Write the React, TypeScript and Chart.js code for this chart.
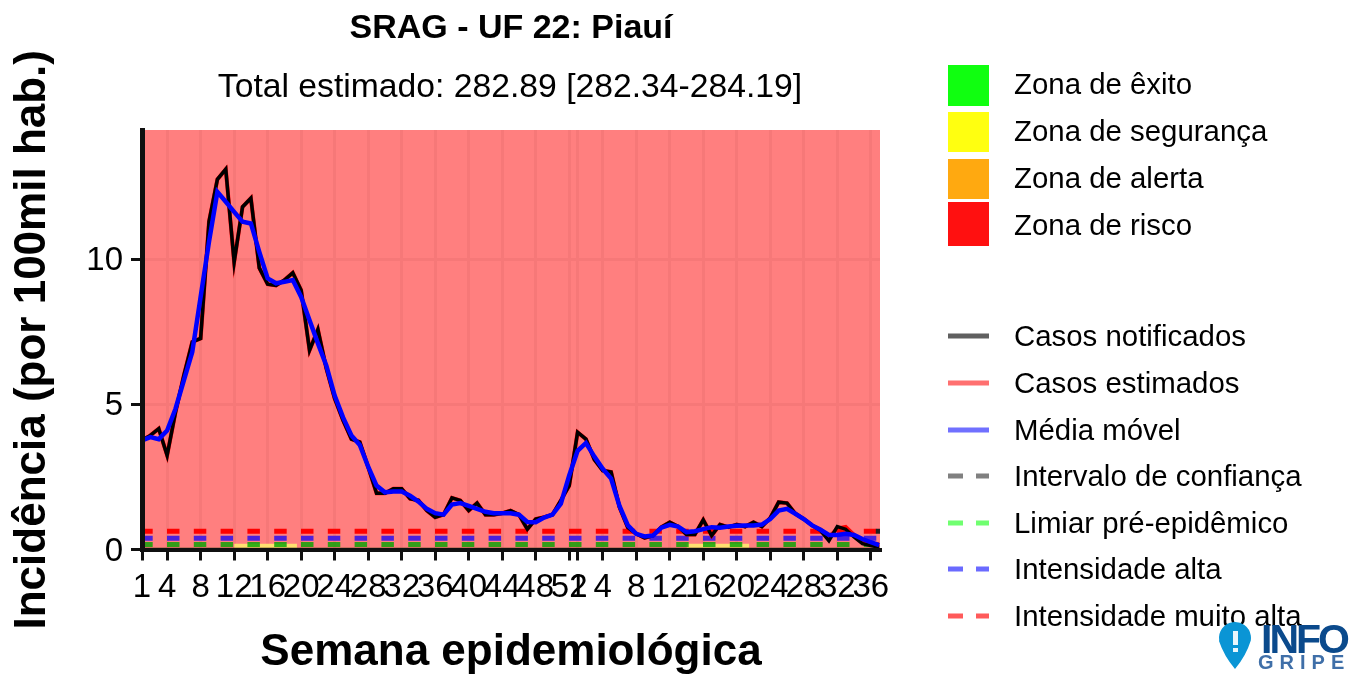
import React, { useEffect, useRef } from "react";
import { Chart, registerables } from "chart.js";

Chart.register(...registerables);

const titleText = "SRAG - UF 22: Piauí";
const subtitleText = "Total estimado: 282.89 [282.34-284.19]";
const yAxisTitle = "Incidência (por 100mil hab.)";
const xAxisTitle = "Semana epidemiológica";

const tickIndex = [0, 3, 7, 11, 15, 19, 23, 27, 31, 35, 39, 43, 47, 51, 52, 55, 59, 63, 67, 71, 75, 79, 83, 87];
const tickWeeks = ["1", "4", "8", "12", "16", "20", "24", "28", "32", "36", "40", "44", "48", "52", "1", "4", "8", "12", "16", "20", "24", "28", "32", "36"];

const notified = [
  3.76, 3.93, 4.16, 3.24, 4.73, 6.0, 7.15, 7.27, 11.3, 12.75, 13.1, 9.9, 11.8, 12.1, 9.7, 9.14, 9.1, 9.28, 9.53, 8.93,
  6.86, 7.58, 6.24, 5.2, 4.45, 3.8, 3.7, 2.84, 1.94, 1.94, 2.09, 2.09, 1.75, 1.69, 1.34, 1.11, 1.2, 1.78, 1.69, 1.34,
  1.6, 1.2, 1.2, 1.25, 1.34, 1.2, 0.7, 1.05, 1.11, 1.2, 1.69, 2.2, 4.04, 3.8, 3.1, 2.72, 2.67, 1.46, 0.75, 0.54,
  0.4, 0.48, 0.77, 0.94, 0.79, 0.52, 0.52, 1.02, 0.48, 0.86, 0.77, 0.86, 0.79, 0.94, 0.79, 1.09, 1.63, 1.6, 1.23, 1.05,
  0.83, 0.65, 0.3, 0.79, 0.7, 0.43, 0.2, 0.14, 0.08,
];
const estimated = [
  3.76, 3.93, 4.16, 3.24, 4.73, 6.0, 7.15, 7.27, 11.3, 12.75, 13.1, 9.9, 11.8, 12.1, 9.7, 9.14, 9.1, 9.28, 9.53, 8.93,
  6.86, 7.58, 6.24, 5.2, 4.45, 3.8, 3.7, 2.84, 1.94, 1.94, 2.09, 2.09, 1.75, 1.69, 1.34, 1.11, 1.2, 1.78, 1.69, 1.34,
  1.6, 1.2, 1.2, 1.25, 1.34, 1.2, 0.7, 1.05, 1.11, 1.2, 1.69, 2.2, 4.04, 3.8, 3.1, 2.72, 2.67, 1.46, 0.75, 0.54,
  0.4, 0.48, 0.77, 0.94, 0.79, 0.52, 0.52, 1.02, 0.48, 0.86, 0.77, 0.86, 0.79, 0.94, 0.79, 1.09, 1.63, 1.6, 1.23, 1.05,
  0.83, 0.68, 0.42, 0.72, 0.78, 0.5, 0.28, 0.16, 0.18,
];
const movingAverage = [
  3.76, 3.87, 3.8, 4.1, 4.85, 5.83, 6.8, 8.7, 10.6, 12.32, 11.98, 11.63, 11.29, 11.23, 10.25, 9.34, 9.17, 9.22, 9.28, 8.7,
  7.9, 7.1, 6.34, 5.3, 4.55, 3.93, 3.6, 2.85, 2.2, 1.97, 2.0, 2.0, 1.85, 1.65, 1.4, 1.25, 1.2, 1.55, 1.6, 1.5,
  1.4, 1.3, 1.25, 1.25, 1.25, 1.2, 0.95, 0.94, 1.1, 1.2, 1.58, 2.55, 3.4, 3.67, 3.2, 2.78, 2.44, 1.5, 0.83, 0.54,
  0.45, 0.48, 0.75, 0.85, 0.79, 0.6, 0.63, 0.7, 0.77, 0.75, 0.79, 0.82, 0.83, 0.83, 0.86, 1.05, 1.34, 1.4, 1.23, 1.05,
  0.83, 0.68, 0.5, 0.5, 0.54, 0.5, 0.36, 0.25, 0.15,
];

const axisEnd = 88.1;
const yMax = 14.45;
const thresholdPre = 0.17;
const thresholdHigh = 0.39;
const thresholdVeryHigh = 0.63;
const ciTailX = [87.6, 88.1];
const ciTailY = [0.63, 0.63];
const safetySpanA = [11, 18.5];
const safetySpanB = [65, 72.5];
const safetyTop = 0.2;
const successTop = 0.07;

const zoneLabels = ["Zona de êxito", "Zona de segurança", "Zona de alerta", "Zona de risco"];
const zoneColors = ["#10ff10", "#ffff10", "#ffa910", "#ff1010"];
const lineLabels = ["Casos notificados", "Casos estimados", "Média móvel", "Intervalo de confiança", "Limiar pré-epidêmico", "Intensidade alta", "Intensidade muito alta"];
const lineKeyColors = ["#606060", "#ff7070", "#7070ff", "#808080", "#70ff70", "#6a6aff", "#ff5a5a"];
const lineKeyDashed = [false, false, false, true, true, true, true];

const SANS = '"Liberation Sans", Arial, sans-serif';
const TEXT = "#000000";

const series = (ys: number[]) => ys.map((y, x) => ({ x, y }));
const flat = (xs: number[], y: number) => xs.map((x) => ({ x, y }));

const overlay = {
  id: "overlay",
  afterDraw(chart: any) {
    const ctx = chart.ctx as CanvasRenderingContext2D;
    ctx.save();
    ctx.textBaseline = "middle";
    ctx.fillStyle = TEXT;
    ctx.textAlign = "center";
    ctx.font = `bold 34px ${SANS}`;
    ctx.fillText(titleText, 511, 29);
    ctx.font = `33.7px ${SANS}`;
    ctx.fillText(subtitleText, 510, 88);

    ctx.textAlign = "left";
    ctx.font = `29.4px ${SANS}`;
    const zoneTops = [65, 112, 159, 202];
    const zoneH = [41, 40, 40, 44];
    const zoneText = [86, 133, 180, 227];
    zoneLabels.forEach((label, i) => {
      ctx.fillStyle = zoneColors[i];
      ctx.fillRect(948, zoneTops[i], 41, zoneH[i]);
      ctx.fillStyle = TEXT;
      ctx.fillText(label, 1014, zoneText[i]);
    });
    const lineY = [336, 383, 430, 476, 523, 569, 616];
    lineLabels.forEach((label, i) => {
      ctx.strokeStyle = lineKeyColors[i];
      ctx.lineWidth = 5;
      ctx.setLineDash(lineKeyDashed[i] ? [15, 13] : []);
      ctx.beginPath();
      ctx.moveTo(948, lineY[i]);
      ctx.lineTo(989, lineY[i]);
      ctx.stroke();
      ctx.setLineDash([]);
      ctx.fillStyle = TEXT;
      ctx.fillText(label, 1014, lineY[i] + 2);
    });

    // Logo
    ctx.fillStyle = "#0a95d5";
    ctx.beginPath();
    ctx.arc(1235, 638, 16, Math.PI * 0.95, Math.PI * 0.05);
    ctx.quadraticCurveTo(1246, 656, 1235, 669);
    ctx.quadraticCurveTo(1224, 656, 1219, 641);
    ctx.closePath();
    ctx.fill();
    ctx.fillStyle = "#e8f6fc";
    ctx.fillRect(1233, 631, 5, 14);
    ctx.fillRect(1233, 648, 5, 4);
    ctx.fillStyle = "#0b4a8c";
    ctx.font = `bold 41px ${SANS}`;
    ctx.textBaseline = "alphabetic";
    (ctx as any).letterSpacing = "-3px";
    ctx.fillText("INFO", 1261, 653);
    ctx.font = `bold 20px ${SANS}`;
    (ctx as any).letterSpacing = "6px";
    ctx.fillStyle = "#3f6fa8";
    ctx.fillText("GRIPE", 1258, 669);
    ctx.restore();
  },
};

const thresholdLine = (label: string, y: number, color: string) => ({
  label,
  data: flat([0, axisEnd], y),
  borderColor: color,
  borderWidth: 5,
  borderDash: [12.5, 14.3],
  borderDashOffset: 1.8,
  pointRadius: 0,
  fill: false,
});

const zoneFill = (label: string, data: { x: number; y: number }[], color: string) => ({
  label,
  data,
  borderWidth: 0,
  borderColor: "transparent",
  backgroundColor: color,
  pointRadius: 0,
  fill: "origin",
});

export default function App() {
  const ref = useRef<HTMLCanvasElement>(null);
  useEffect(() => {
    const chart = new Chart(ref.current!, {
      type: "line",
      data: {
        datasets: [
          { label: "Média móvel", data: series(movingAverage), borderColor: "#0000ff", borderWidth: 4.5, pointRadius: 0, tension: 0, fill: false },
          { label: "Casos notificados", data: series(notified), borderColor: "#000000", borderWidth: 3.5, pointRadius: 0, tension: 0, fill: false },
          { label: "Casos estimados", data: series(estimated), borderColor: "#ff0000", borderWidth: 4, pointRadius: 0, tension: 0, fill: false },
          { label: "Intervalo de confiança", data: ciTailX.map((x, i) => ({ x, y: ciTailY[i] })), borderColor: "#202020", borderWidth: 5, pointRadius: 0, fill: false },
          thresholdLine("Intensidade muito alta", thresholdVeryHigh, "#ff0000"),
          thresholdLine("Intensidade alta", thresholdHigh, "#4a20dc"),
          thresholdLine("Limiar pré-epidêmico", thresholdPre, "rgba(0,165,0,0.8)"),
          zoneFill("Zona de êxito", flat([0, axisEnd], successTop), "rgba(110,90,50,0.75)"),
          zoneFill("Zona de segurança A", flat(safetySpanA, safetyTop), "rgba(255,235,110,0.9)"),
          zoneFill("Zona de segurança B", flat(safetySpanB, safetyTop), "rgba(255,235,110,0.9)"),
          zoneFill("Zona de risco", flat([0, axisEnd], yMax), "rgba(255,0,0,0.5)"),
        ],
      },
      options: {
        animation: false,
        responsive: false,
        layout: { padding: { left: 0, top: 130, right: 476, bottom: 0 } },
        plugins: { legend: { display: false }, title: { display: false }, tooltip: { enabled: false } },
        scales: {
          x: {
            type: "linear",
            min: 0,
            max: axisEnd,
            afterFit: (s: any) => { s.height = 127.5; },
            afterBuildTicks: (s: any) => { s.ticks = tickIndex.map((value) => ({ value })); },
            grid: { color: "#edf1f1", lineWidth: 3, tickColor: "#101010", tickWidth: 3, tickLength: 11 },
            border: { color: "#101010", width: 4, z: 2 },
            ticks: {
              autoSkip: false, maxRotation: 0, minRotation: 0, padding: 8, color: TEXT,
              font: { family: SANS, size: 33 },
              callback: (v: any) => tickWeeks[tickIndex.indexOf(v)],
            },
            title: { display: true, text: xAxisTitle, color: TEXT, font: { family: SANS, size: 44, weight: "bold", lineHeight: 1.1 }, padding: { top: 0, bottom: 0 } },
          },
          y: {
            type: "linear",
            min: 0,
            max: yMax,
            afterFit: (s: any) => { s.width = 142; },
            afterBuildTicks: (s: any) => { s.ticks = [0, 5, 10].map((value) => ({ value })); },
            grid: { color: "#edf1f1", lineWidth: 3, tickColor: "#101010", tickWidth: 3, tickLength: 11 },
            border: { color: "#101010", width: 5, z: 2 },
            ticks: { padding: 8, color: TEXT, labelOffset: 2, font: { family: SANS, size: 33 } },
            title: { display: true, text: yAxisTitle, color: TEXT, font: { family: SANS, size: 44, weight: "bold" }, padding: { top: 6, bottom: 0 } },
          },
        },
      } as any,
      plugins: [overlay],
    });
    return () => chart.destroy();
  }, []);
  return (
    <canvas
      ref={ref}
      width={1356}
      height={677}
      style={{ position: "absolute", left: 0, top: 0, width: 1356, height: 677, filter: "blur(0.7px)" }}
    />
  );
}
